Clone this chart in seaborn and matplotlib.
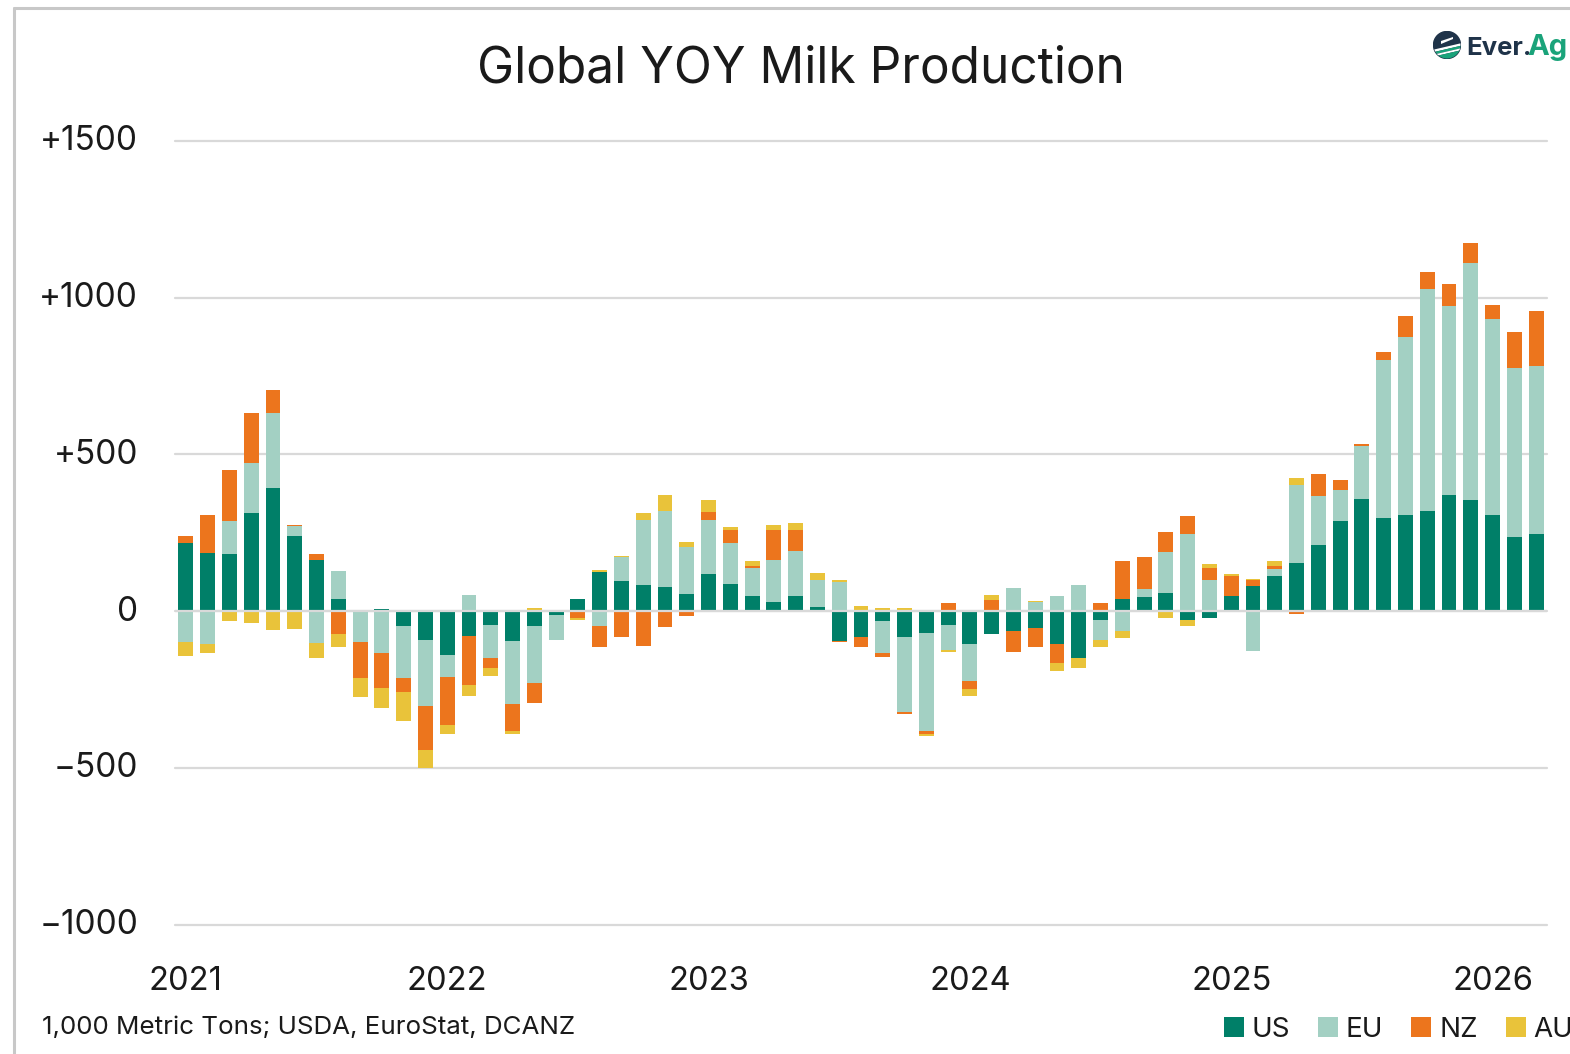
import numpy as np
import pandas as pd
import matplotlib
matplotlib.use("Agg")
import matplotlib.pyplot as plt
from matplotlib.patches import Patch, Circle, Polygon
from matplotlib.lines import Line2D
from matplotlib.transforms import ScaledTranslation
import seaborn as sns

years = ["2021", "2022", "2023", "2024", "2025", "2026"]
y_ticks = [-1000, -500, 0, 500, 1000, 1500]
y_labels = ["\u22121000", "\u2212500", "0", "+500", "+1000", "+1500"]

us = [218, 184, 181, 312, 394, 241, 163, 39, 0, 6, -47, -91,
      -140, -80, -43, -95, -46, -11, 39, 125, 96, 84, 77, 54,
      118, 87, 47, 28, 47, 13, -95, -83, -31, -83, -69, -43,
      -106, -72, -65, -53, -106, -150, -28, 39, 44, 59, -28, -23,
      47, 81, 111, 152, 212, 287, 357, 298, 308, 320, 372, 353,
      308, 235, 245]
eu = [-98, -105, 105, 160, 238, 31, -102, 90, -98, -135, -166, -212,
      -70, 50, -107, -200, -182, -80, 0, -46, 78, 208, 242, 149,
      172, 131, 91, 135, 145, 86, 94, 0, -104, -239, -313, -81,
      -116, 0, 74, 30, 47, 84, -64, -65, 25, 130, 245, 99,
      0, -128, 22, 250, 156, 100, 171, 504, 567, 709, 603, 758,
      624, 540, 537]
nz = [23, 124, 164, 160, 72, 3, 18, -72, -115, -109, -46, -139,
      -152, -157, -33, -87, -64, 0, -23, -67, -83, -110, -50, -16,
      26, 41, 6, 96, 67, 0, -3, -30, -11, -6, -10, 25,
      -26, 36, -64, -63, -59, 0, 25, 120, 105, 64, 60, 37,
      64, 19, 12, -8, 70, 30, 5, 24, 67, 52, 69, 63,
      45, 115, 176]
au = [-44, -30, -31, -38, -61, -56, -47, -41, -60, -66, -93, -59,
      -30, -33, -23, -10, 10, 5, -5, 7, 3, 20, 52, 19,
      37, 8, 15, 15, 22, 21, 5, 17, 10, 10, -5, -7,
      -22, 14, -2, 3, -26, -32, -23, -21, 0, -23, -18, 15,
      6, 3, 14, 22, 0, 0, 0, 0, 0, 0, 0, 0,
      0, 0, 0]

series = [("US", us, "#007F68"), ("EU", eu, "#A3D0C3"),
          ("NZ", nz, "#EC751D"), ("AU", au, "#E9C33A")]

W, H = 1570, 1054
sns.set_theme(style="white")
plt.rcParams["font.family"] = ["Inter", "DejaVu Sans"]
TXT = "#1a1a1a"

fig = plt.figure(figsize=(W / 100, H / 100), dpi=100, facecolor="white")
ax = fig.add_axes([175 / W, 1 - 924.5 / H, (1547 - 175) / W, (924.5 - 141) / H])

months = np.arange(len(us))
pos_base = np.zeros(len(us))
neg_base = np.zeros(len(us))
for name, vals, col in series:
    vals = np.array(vals, dtype=float)
    pos = np.where(vals > 0, vals, 0.0)
    neg = np.where(vals < 0, vals, 0.0)
    sns.barplot(x=months, y=pos, bottom=pos_base, ax=ax, color=col, width=0.68,
                saturation=1, linewidth=0, errorbar=None, zorder=3)
    sns.barplot(x=months, y=neg, bottom=neg_base, ax=ax, color=col, width=0.68,
                saturation=1, linewidth=0, errorbar=None, zorder=3)
    pos_base += pos
    neg_base += neg

ax.set_xlim(-0.5, len(us) - 0.5)
ax.set_ylim(-1000, 1500)
ax.set_xticks(np.arange(len(years)) * 12)
ax.set_xticklabels(years, fontsize=23.5, color=TXT)
ax.set_yticks(y_ticks)
ax.set_yticklabels(y_labels, fontsize=24, color=TXT)
ax.set_xlabel("")
ax.set_ylabel("")
ax.tick_params(axis="x", length=0, pad=29.7)
ax.tick_params(axis="y", length=0, pad=26.5)
shift = ScaledTranslation(0, 3 / 100, fig.dpi_scale_trans)
for lab in ax.get_yticklabels():
    lab.set_transform(lab.get_transform() + shift)
ax.set_axisbelow(True)
ax.yaxis.grid(True, color="#D9D9D9", linewidth=1.6, clip_on=False)
for gl in ax.get_ygridlines():
    gl.set_clip_on(False)
ax.xaxis.grid(False)
for s in ax.spines.values():
    s.set_visible(False)
ax.axhline(0, color="#D9D9D9", linewidth=1.6, zorder=5)

fig.text(801 / W, 1 - 69 / H, "Global YOY Milk Production", ha="center", va="center",
         fontsize=35.7, color=TXT)
fig.text(42 / W, 1 - 1028 / H, "1,000 Metric Tons; USDA, EuroStat, DCANZ", ha="left", va="center",
         fontsize=18.7, color=TXT)

# legend, running off the right edge as in the reference
handles = [Patch(facecolor=c, edgecolor="none", label=n) for n, _, c in series]
fig.legend(handles=handles, ncol=4, loc="center left",
           bbox_to_anchor=(1223.5 / W, 1 - 1030 / H), borderaxespad=0, borderpad=0,
           frameon=False, fontsize=20, handlelength=0.72, handleheight=0.72,
           handletextpad=0.29, columnspacing=1.0, labelcolor=TXT)

# frame lines
fig.add_artist(Line2D([13.5 / W, 13.5 / W], [0, 1 - 7.5 / H], color="#C8C8C8", linewidth=2.2))
fig.add_artist(Line2D([13.5 / W, 1], [1 - 7.5 / H, 1 - 7.5 / H], color="#C8C8C8", linewidth=2.2))

# Ever.Ag logo
fig.text(1466 / W, 1 - 55 / H, "Ever.", ha="left", va="baseline", fontsize=18.5, fontweight="bold",
         color="#1F3349")
fig.text(1527 / W, 1 - 55 / H, "Ag", ha="left", va="baseline", fontsize=21, fontweight="bold",
         color="#1AA37A")
logo = fig.add_axes([1433 / W, 1 - 59 / H, 28 / W, 28 / H])
logo.set_xlim(0, 28)
logo.set_ylim(28, 0)
logo.set_aspect("equal")
logo.axis("off")
disc = Circle((14, 14), 13.5, color="#1F3349", zorder=1)
logo.add_patch(disc)
shapes = [
    ([(8, 13), (20, 8), (20, 6), (8, 10)], "white", 2),
    ([(-1, 19), (29, 12), (29, 14.5), (-1, 21.5)], "white", 3),
    ([(-1, 21.5), (29, 14.5), (29, 17), (-1, 24)], "#1AA37A", 3),
    ([(-1, 24), (29, 17), (29, 19), (-1, 26)], "white", 3),
    ([(-1, 26), (29, 19), (29, 29), (-1, 29)], "#1AA37A", 3),
]
for pts, col, z in shapes:
    poly = Polygon(pts, closed=True, facecolor=col, edgecolor="none", zorder=z)
    logo.add_patch(poly)
    poly.set_clip_path(disc)

fig.savefig("out.png", dpi=100, facecolor="white")
